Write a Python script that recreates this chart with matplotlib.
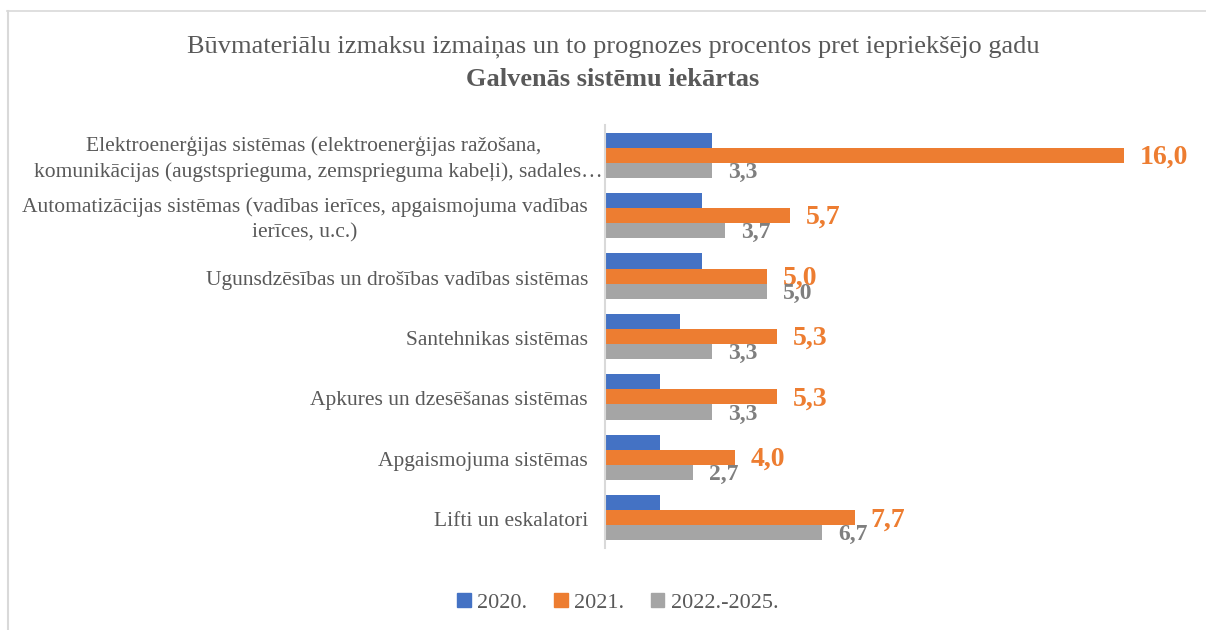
import matplotlib
matplotlib.use("Agg")
import numpy as np
import matplotlib.pyplot as plt
from matplotlib.lines import Line2D
from matplotlib.patches import Patch

plt.rcParams["font.family"] = ["Liberation Serif", "DejaVu Serif"]

categories = [
    "Elektroenerģijas sistēmas (elektroenerģijas ražošana,  \nkomunikācijas (augstsprieguma, zemsprieguma kabeļi), sadales…",
    "Automatizācijas sistēmas (vadības ierīces, apgaismojuma vadības\nierīces, u.c.)",
    "Ugunsdzēsības un drošības vadības sistēmas",
    "Santehnikas sistēmas",
    "Apkures un dzesēšanas sistēmas",
    "Apgaismojuma sistēmas",
    "Lifti un eskalatori",
]
series_names = ["2020.", "2021.", "2022.-2025."]
v2020 = [3.3, 3.0, 3.0, 2.3, 1.7, 1.7, 1.7]
v2021 = [16.0, 5.7, 5.0, 5.3, 5.3, 4.0, 7.7]
v2022 = [3.3, 3.7, 5.0, 3.3, 3.3, 2.7, 6.7]

colors = ["#4472C4", "#ED7D31", "#A5A5A5"]
label_colors = [None, "#ED7D31", "#7F7F7F"]
label_sizes = [None, 20, 17]
text_gray = "#595959"

fig = plt.figure(figsize=(12.06, 6.3), dpi=100)
ax = fig.add_axes([605 / 1206, 1 - 548 / 630, 584 / 1206, (548 - 125) / 630])

y = np.arange(len(categories))
h = 0.25
series = [v2020, v2021, v2022]
for i, (vals, c) in enumerate(zip(series, colors)):
    pos = y + (i - 1) * h
    ax.barh(pos, vals, height=h, color=c, label=series_names[i])
    if label_colors[i] is not None:
        for p, v in zip(pos, vals):
            ax.annotate(f"{v:.1f}".replace(".", ","), (v, p), xytext=(16, -2),
                        textcoords="offset pixels",
                        ha="left", va="center", fontsize=label_sizes[i],
                        fontweight="bold", color=label_colors[i])

ax.set_ylim(len(categories) - 0.5, -0.5)
ax.set_xlim(0, 18)
ax.set_yticks([])
ax.set_xticks([])

# category labels (the first one overflows to the axis line, like the truncated Excel label)
for yi, cat in zip(y, categories):
    dx = -2 if yi == 0 else -17
    ax.annotate(cat, (0, yi), xycoords=ax.get_yaxis_transform(), xytext=(dx, -4),
                textcoords="offset pixels", ha="right", va="center",
                multialignment="center", linespacing=1.4,
                fontsize=15.5, color=text_gray, annotation_clip=False)

for s in ["top", "right", "bottom"]:
    ax.spines[s].set_visible(False)
ax.spines["left"].set_color("#D9D9D9")
ax.spines["left"].set_linewidth(1.5)

fig.text(613 / 1206, 1 - 47 / 630,
         "Būvmateriālu izmaksu izmaiņas un to prognozes procentos pret iepriekšējo gadu",
         ha="center", va="center", fontsize=19, color=text_gray)
fig.text(613 / 1206, 1 - 80 / 630, "Galvenās sistēmu iekārtas",
         ha="center", va="center", fontsize=19, fontweight="bold", color=text_gray)

handles = [Patch(color=c) for c in colors]
fig.legend(handles, series_names, loc="center", bbox_to_anchor=(618 / 1206, 1 - 603 / 630),
           ncol=3, frameon=False, fontsize=16, labelcolor=text_gray,
           handlelength=0.6, handleheight=0.6, handletextpad=0.3, columnspacing=1.2)

# chart frame (top and left edges visible)
fig.add_artist(Line2D([7 / 1206, 1], [1 - 11 / 630, 1 - 11 / 630], color="#D9D9D9", lw=1.2))
fig.add_artist(Line2D([8 / 1206, 8 / 1206], [0, 1 - 11 / 630], color="#D9D9D9", lw=1.5))

fig.savefig("out.png", dpi=100)
